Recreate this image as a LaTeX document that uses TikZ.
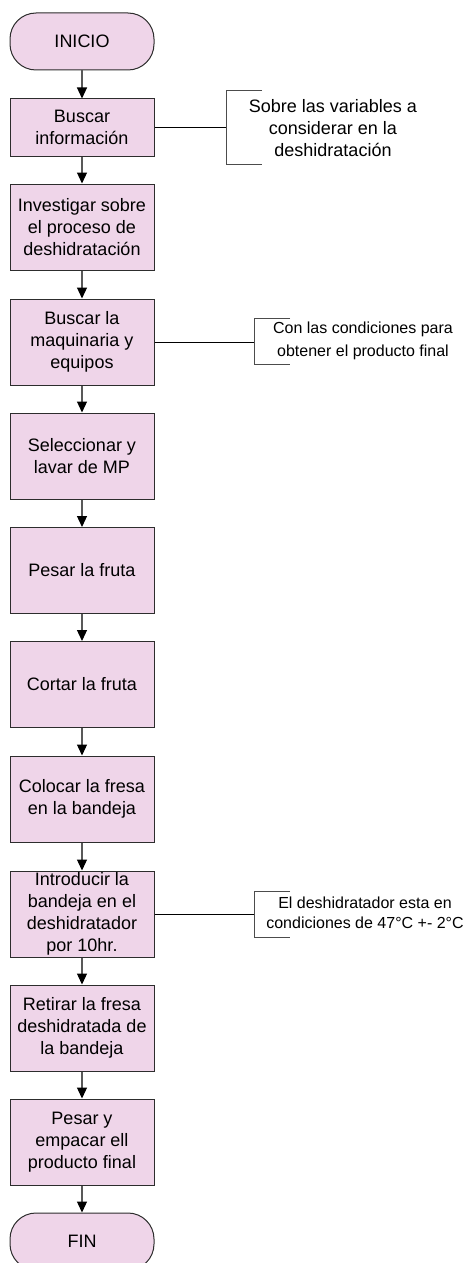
\documentclass[tikz,border=0pt]{standalone}
\usepackage{fontspec}
\setmainfont{Liberation Sans}
\usetikzlibrary{arrows.meta}
\definecolor{rosa}{RGB}{239,213,233}
\definecolor{borde}{RGB}{45,45,45}

\begin{document}
\begin{tikzpicture}[x=0.5pt,y=-0.5pt,
	paso/.style={draw=borde,line width=0.5pt,fill=rosa,rectangle,align=center,minimum width=72pt,minimum height=43pt,inner sep=0pt,font=\fontsize{9}{11}\selectfont},
	extremo/.style={paso,rounded corners=13pt,minimum height=28.5pt},
	nota/.style={align=center,inner sep=0pt},
	trans/.style={draw=black!65,line width=0.6pt,-{Triangle[width=5pt,length=5.5pt,black]}},
	enlace/.style={draw=black,line width=0.5pt},
	corchete/.style={draw=black!70,line width=0.5pt}]
\useasboundingbox (0,0) rectangle (464,1263);
\node[extremo](A) at (82,41.5) {INICIO};
\node[paso,minimum height=28.5pt](B) at (82,127.5)
	{Buscar \\ información};
\node[paso](C) at (82,227)
	{Investigar sobre \\ el proceso de \\ deshidratación};
\node[paso](D) at (82,342)
	{Buscar la \\ maquinaria y \\ equipos};
\node[paso](E) at (82,456)
	{Seleccionar y \\ lavar de MP};
\node[paso](F) at (82,570.5)
	{Pesar la fruta};
\node[paso](G) at (82,684.5)
	{Cortar la fruta};
\node[paso](H) at (82,799)
	{Colocar la fresa \\ en la bandeja};
\node[paso](I) at (82,914)
	{Introducir la \\ bandeja en el \\ deshidratador \\ por 10hr.};
\node[paso](J) at (82,1028)
	{Retirar la fresa \\ deshidratada de \\ la bandeja};
\node[paso](K) at (82,1142)
	{Pesar y \\ empacar ell \\ producto final};
\node[extremo](L) at (82,1241.5) {FIN};
\draw[trans] (A) -- (B);
\draw[trans] (B) -- (C);
\draw[trans] (C) -- (D);
\draw[trans] (D) -- (E);
\draw[trans] (E) -- (F);
\draw[trans] (F) -- (G);
\draw[trans] (G) -- (H);
\draw[trans] (H) -- (I);
\draw[trans] (I) -- (J);
\draw[trans] (J) -- (K);
\draw[trans] (K) -- (L);
% notas
\node[nota,font=\fontsize{9}{11}\selectfont](N1) at (333,128)
	{Sobre las variables a \\ considerar en la \\ deshidratación};
\coordinate (k1) at (226,127.5);
\draw[corchete] (262,91) -- (226,91) -- (226,164) -- (262,164);
\draw[enlace] (B.east) -- (k1);
\node[nota,font=\fontsize{8}{11.5}\selectfont](N2) at (363,340.5)
	{Con las condiciones para \\ obtener el producto final};
\coordinate (k2) at (254,342);
\draw[corchete] (290,318) -- (254,318) -- (254,364) -- (290,364);
\draw[enlace] (D.east) -- (k2);
\node[nota,font=\fontsize{8}{10}\selectfont](N3) at (365,913)
	{El deshidratador esta en \\ condiciones de 47°C +- 2°C};
\coordinate (k3) at (254,914);
\draw[corchete] (290,891) -- (254,891) -- (254,937) -- (290,937);
\draw[enlace] (I.east) -- (k3);
\end{tikzpicture}
\end{document}
